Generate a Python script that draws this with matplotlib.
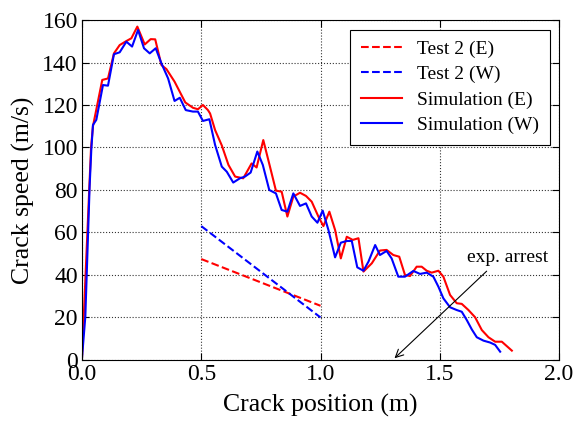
import matplotlib
matplotlib.use("Agg")
import matplotlib.pyplot as plt

# Simulation (E)
sim_e_x = [0.0, 0.038, 0.046, 0.085, 0.109, 0.134, 0.158, 0.186, 0.207, 0.232, 0.263,
           0.288, 0.307, 0.333, 0.354, 0.388, 0.433, 0.465, 0.486, 0.507, 0.528, 0.537,
           0.558, 0.586, 0.614, 0.642, 0.676, 0.711, 0.732, 0.760, 0.788, 0.813, 0.837,
           0.861, 0.886, 0.914, 0.939, 0.963, 0.991, 1.012, 1.037, 1.061, 1.085, 1.110,
           1.135, 1.159, 1.180, 1.215, 1.249, 1.277, 1.305, 1.330, 1.354, 1.375, 1.403,
           1.424, 1.445, 1.466, 1.494, 1.515, 1.543, 1.571, 1.592, 1.620, 1.648, 1.676,
           1.704, 1.732, 1.760, 1.802]
sim_e_y = [1.0, 100.0, 110.0, 131.8, 132.5, 144.3, 148.2, 150.1, 151.4, 156.9, 148.5,
           151.0, 150.9, 138.8, 136.9, 131.0, 121.2, 118.7, 118.0, 120.0, 117.6, 116.0,
           108.2, 101.0, 91.8, 86.3, 85.5, 92.5, 90.6, 103.5, 91.0, 79.7, 79.2,
           67.5, 76.9, 78.7, 77.2, 74.5, 67.5, 63.0, 69.8, 61.2, 47.8, 58.0,
           56.5, 57.3, 41.6, 45.5, 51.5, 51.8, 49.4, 48.6, 40.0, 39.5, 43.9,
           43.9, 42.0, 41.1, 42.0, 39.2, 30.6, 26.7, 26.4, 23.5, 20.1, 14.1,
           10.7, 8.6, 8.6, 4.4]

# Simulation (W)
sim_w_x = [0.0, 0.014, 0.032, 0.039, 0.046, 0.060, 0.088, 0.109, 0.134, 0.158, 0.186,
           0.210, 0.235, 0.260, 0.284, 0.309, 0.333, 0.361, 0.388, 0.410, 0.435, 0.465,
           0.486, 0.507, 0.534, 0.558, 0.586, 0.607, 0.634, 0.662, 0.683, 0.707, 0.735,
           0.758, 0.785, 0.813, 0.837, 0.861, 0.886, 0.914, 0.939, 0.963, 0.987, 1.009,
           1.033, 1.061, 1.085, 1.110, 1.131, 1.154, 1.180, 1.201, 1.229, 1.249, 1.277,
           1.298, 1.326, 1.354, 1.389, 1.417, 1.445, 1.473, 1.494, 1.515, 1.543, 1.571,
           1.592, 1.613, 1.634, 1.655, 1.683, 1.711, 1.732, 1.753]
sim_w_y = [0.9, 20.4, 81.6, 98.8, 110.6, 113.0, 129.4, 129.1, 143.9, 144.8, 149.8,
           147.5, 155.3, 146.7, 144.3, 146.7, 139.6, 132.5, 121.9, 123.4, 117.6, 116.9,
           116.9, 112.5, 113.3, 101.2, 91.0, 88.6, 83.5, 85.5, 86.3, 88.2, 98.1,
           91.8, 80.0, 78.4, 70.6, 69.8, 78.4, 72.5, 73.7, 67.5, 64.6, 70.3,
           61.2, 48.3, 55.2, 56.0, 56.0, 43.6, 42.0, 46.3, 54.1, 49.4, 51.3,
           47.8, 39.2, 39.2, 41.9, 40.5, 41.1, 39.2, 34.5, 29.0, 24.8, 23.5,
           22.7, 18.8, 14.4, 10.7, 9.1, 8.2, 7.1, 3.9]

# Test 2 measurements (linear fits)
test_e_x = [0.5, 1.0]
test_e_y = [47.5, 25.5]
test_w_x = [0.5, 1.0]
test_w_y = [63.0, 20.0]

arrest_xy = (1.31, 0.8)
arrest_text_xy = (1.615, 48.0)

plt.rcParams.update({
    "font.family": "Liberation Serif",
    "mathtext.fontset": "stix",
})

fig = plt.figure(figsize=(5.79, 4.23), dpi=100)
ax = fig.add_axes([0.1416, 0.149, 0.824, 0.8037])

ax.plot(test_e_x, test_e_y, "--", color="red", lw=1.5, label="Test 2 (E)")
ax.plot(test_w_x, test_w_y, "--", color="blue", lw=1.5, label="Test 2 (W)")
ax.plot(sim_e_x, sim_e_y, "-", color="red", lw=1.5, label="Simulation (E)")
ax.plot(sim_w_x, sim_w_y, "-", color="blue", lw=1.5, label="Simulation (W)")

ax.annotate("exp. arrest", xy=arrest_xy, xytext=arrest_text_xy, fontsize=14,
            ha="left", va="center",
            arrowprops=dict(arrowstyle="->", color="black", lw=0.8,
                            shrinkA=2, shrinkB=0, relpos=(0.3, 0.0)))

ax.set_xlim(0, 2.0)
ax.set_ylim(0, 160)
ax.set_xticks([0.0, 0.5, 1.0, 1.5, 2.0])
ax.set_yticks(range(0, 161, 20))
ax.set_xticklabels(["0.0", "0.5", "1.0", "1.5", "2.0"])
ax.tick_params(direction="in", top=True, right=True, labelsize=17, length=5, pad=3)
ax.grid(True, linestyle=":", color="black", lw=0.8, alpha=0.8)
ax.set_xlabel("Crack position (m)", fontsize=18.5, labelpad=6)
ax.set_ylabel("Crack speed (m/s)", fontsize=18.5, labelpad=5)

leg = ax.legend(loc="upper right", fontsize=14, fancybox=False, framealpha=1,
                edgecolor="black", handlelength=2.1, borderpad=0.55,
                labelspacing=0.4, borderaxespad=0,
                bbox_to_anchor=(0.981, 0.972))
leg.get_frame().set_linewidth(0.8)

fig.savefig("out.png", dpi=100, facecolor="white")
